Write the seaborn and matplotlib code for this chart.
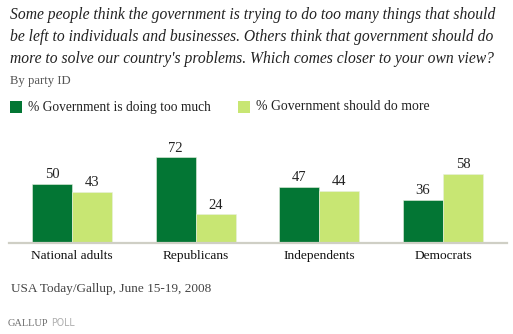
import matplotlib
matplotlib.use("Agg")
import matplotlib.pyplot as plt
import seaborn as sns
import pandas as pd
from matplotlib.patches import Rectangle

# Data
categories = ["National adults", "Republicans", "Independents", "Democrats"]
series_names = ["% Government is doing too much", "% Government should do more"]
too_much = [50, 72, 47, 36]
do_more = [43, 24, 44, 58]

title_lines = [
    "Some people think the government is trying to do too many things that should",
    "be left to individuals and businesses. Others think that government should do",
    "more to solve our country's problems. Which comes closer to your own view?",
]
subtitle = "By party ID"
source = "USA Today/Gallup, June 15-19, 2008"

DARK = "#037634"
LIGHT = "#c8e673"
W, H = 513, 334
SERIF = "Liberation Serif"

df = pd.DataFrame({
    "category": categories * 2,
    "series": [series_names[0]] * 4 + [series_names[1]] * 4,
    "value": too_much + do_more,
})

sns.set_theme(style="white")
plt.rcParams["font.family"] = [SERIF, "DejaVu Serif"]

fig = plt.figure(figsize=(W / 100, H / 100), dpi=100)
fig.patch.set_facecolor("white")
renderer = fig.canvas.get_renderer()


def fx(x):
    return x / W


def fy(y):
    return 1 - y / H


def fit(txt, width_px):
    """Scale a text's font size so that it spans width_px pixels."""
    w = txt.get_window_extent(renderer=renderer).width
    txt.set_fontsize(txt.get_fontsize() * width_px / w)
    return txt


# Plot area: baseline at y=243 px, 1.19 px per percentage point
base_px, top_px = 243, 143
ax = fig.add_axes([fx(9), fy(base_px), (507 - 9) / W, (base_px - top_px) / H])
sns.barplot(data=df, x="category", y="value", hue="series",
            palette=[DARK, LIGHT], width=0.647, ax=ax, legend=False,
            edgecolor="#e8f0e0", linewidth=0.4, saturation=1)
ax.set_xlim(-0.509, 3.517)
ax.set_ylim(0, (base_px - top_px) / 1.19)
ax.set_xlabel("")
ax.set_ylabel("")
ax.set_yticks([])
ax.tick_params(axis="x", length=0, pad=5, labelsize=9.6, labelcolor="#111111")
for s in ["top", "left", "right"]:
    ax.spines[s].set_visible(False)
ax.spines["bottom"].set_color("#cfcfc5")
ax.spines["bottom"].set_linewidth(1.6)
ax.set_facecolor("none")

for cont in ax.containers:
    ax.bar_label(cont, labels=[f"{v:g}" for v in cont.datavalues], padding=2,
                 fontsize=10.5, color="#222222", clip_on=False)

# Title and subtitle
title_size = None
for i, line in enumerate(title_lines):
    t = fig.text(fx(10), fy(15 + 22 * i), line, fontsize=9.0, style="italic",
                 color="#222222", va="center", ha="left")
    if title_size is None:
        fit(t, 485)
        title_size = t.get_fontsize()
    else:
        t.set_fontsize(title_size)
fit(fig.text(fx(10), fy(81), subtitle, fontsize=8.0, color="#555555",
             va="center", ha="left"), 61)

# Legend
for x0, name, col, wpx in [(10, series_names[0], DARK, 183),
                           (238, series_names[1], LIGHT, 172)]:
    fig.patches.append(Rectangle((fx(x0), fy(113)), 12 / W, 12 / H,
                                 transform=fig.transFigure, facecolor=col,
                                 edgecolor="none"))
    fit(fig.text(fx(x0 + 18), fy(107), name, fontsize=8.0, color="#222222",
                 va="center", ha="left"), wpx)

# Source and logo
fit(fig.text(fx(11), fy(289), source, fontsize=8.0, color="#444444",
             va="center", ha="left"), 199)
fit(fig.text(fx(8), fy(323), "GALLUP", fontsize=8.0, color="#6e6e6e",
             va="center", ha="left"), 41)
fit(fig.text(fx(51), fy(323), "POLL", fontsize=8.0, color="#b0b0b0",
             va="center", ha="left", family="DejaVu Sans"), 24)

fig.savefig("out.png", dpi=100, facecolor="white")
